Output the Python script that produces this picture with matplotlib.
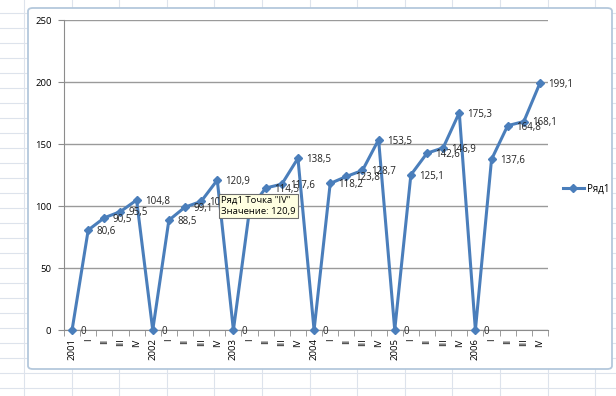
import numpy as np
import matplotlib
matplotlib.use('Agg')
from matplotlib import pyplot as plt
from matplotlib.lines import Line2D
from matplotlib.patches import FancyBboxPatch

plt.rcParams['font.family'] = ['Open Sans', 'DejaVu Sans']

# данные
years = ['2001', '2002', '2003', '2004', '2005', '2006']
quarters = ['I', 'II', 'III', 'IV']
values = [0, 80.6, 90.5, 95.5, 104.8,
          0, 88.5, 99.1, 103.7, 120.9,
          0, 97.0, 114.5, 117.6, 138.5,
          0, 118.2, 123.8, 128.7, 153.5,
          0, 125.1, 142.6, 146.9, 175.3,
          0, 137.6, 164.8, 168.1, 199.1]
labels = []
for y in years:
    labels.append(y)
    labels.extend(quarters)

W, H = 616, 396
fig = plt.figure(figsize=(W / 100, H / 100), dpi=100)

def fx(px):
    return px / W

def fy(py):
    return 1 - py / H

# сетка листа Excel на фоне
grid_c = '#DDE3EC'
for k in range(27):
    y = 13 + 15 * k
    fig.add_artist(Line2D([0, 1], [fy(y), fy(y)], color=grid_c, lw=0.8,
                          transform=fig.transFigure, zorder=0))
for k in range(14):
    x = 24 + 47.6 * k
    fig.add_artist(Line2D([fx(x), fx(x)], [0, 1], color=grid_c, lw=0.8,
                          transform=fig.transFigure, zorder=0))

# область диаграммы
frame = FancyBboxPatch((fx(28), fy(369)), fx(612) - fx(28), fy(8) - fy(369),
                       boxstyle='round,pad=0,rounding_size=0.008',
                       transform=fig.transFigure, fc='white', ec='#B4C8DC',
                       lw=1.3, zorder=1)
fig.add_artist(frame)

ax = fig.add_axes([fx(64), fy(330), fx(548) - fx(64), fy(20) - fy(330)])
ax.set_facecolor('none')
ax.set_zorder(2)

x = np.arange(len(values))
line, = ax.plot(x, values, color='#4A7EBB', lw=2.2, marker='D', markersize=4.5,
                clip_on=False, zorder=3)

for i, v in enumerate(values):
    t = '0' if v == 0 else ('%.1f' % v).replace('.', ',')
    ax.annotate(t, (i, v), xytext=(6, -1), textcoords='offset points',
                va='center', ha='left', fontsize=7, color='#222222', zorder=4)

ax.set_xlim(-0.5, len(values) - 0.5)
ax.set_ylim(0, 250)
ax.set_yticks([0, 50, 100, 150, 200, 250])
ax.grid(axis='y', color='#9A9A9A', lw=1)
ax.set_axisbelow(True)

ax.set_xticks(x)
ax.set_xticklabels(labels, rotation=90, fontsize=6.8)
ax.set_xticks(np.arange(-0.5, len(values)), minor=True)
ax.tick_params(axis='x', which='major', length=0, pad=6)
ax.tick_params(axis='x', which='minor', length=4, color='#8C8C8C', direction='out')
ax.tick_params(axis='y', length=4, color='#8C8C8C', labelsize=6.8, pad=5)

for s in ['top', 'right']:
    ax.spines[s].set_visible(False)
for s in ['left', 'bottom']:
    ax.spines[s].set_color('#8C8C8C')

# всплывающая подсказка
fig.text(fx(221), fy(196), 'Ряд1 Точка "IV"\nЗначение: 120,9', fontsize=6.8,
         va='top', ha='left', linespacing=1.25, zorder=5,
         bbox=dict(boxstyle='square,pad=0.25', fc='#FFFFE1', ec='#6E6E6E', lw=0.8))

fig.legend([line], ['Ряд1'], loc='center left', bbox_to_anchor=(fx(554), fy(189)),
           frameon=False, fontsize=7, handlelength=2.2, handletextpad=0.3)

plt.savefig('out.png', dpi=100)
